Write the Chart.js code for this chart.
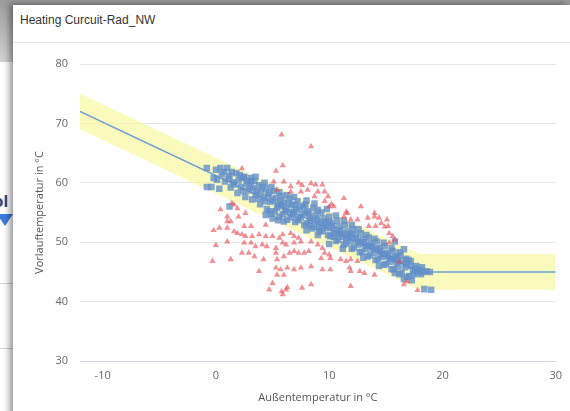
<!DOCTYPE html>
<html lang="de">
<head>
  <meta charset="UTF-8">
  <title>Heating Curcuit-Rad_NW</title>
  <style>
    html, body { margin: 0; padding: 0; }
    body { width: 570px; height: 411px; overflow: hidden; position: relative; background: #fff; font-family: Arial, sans-serif; }
    .back-top { position: absolute; left: 0; top: 0; width: 570px; height: 62px; background: linear-gradient(#9c9c9c, #d2d2d2); }
    .back-text { position: absolute; left: -7px; top: 192px; font: bold 17px Arial, sans-serif; color: #27477a; }
    .back-arrow { position: absolute; left: -3px; top: 214px; width: 0; height: 0; border-left: 8px solid transparent; border-right: 8px solid transparent; border-top: 12px solid #3b7ddb; }
    .back-line { position: absolute; left: 0; width: 13px; height: 1px; background: #d4d4d4; }
    .card { position: absolute; left: 13px; top: 5px; width: 557px; height: 420px; background: #fff; box-shadow: -3px -1px 7px rgba(0,0,0,0.45); }
    .card-title { height: 37px; line-height: 31px; padding-left: 7px; font-size: 12px; color: #333; border-bottom: 1px solid #e8e8e8; }
    .chart-box { position: relative; width: 557px; height: 368px; }
  </style>
</head>
<body>
  <div class="back-top"></div>
  <div class="back-text">ol</div>
  <div class="back-arrow"></div>
  <div class="back-line" style="top:283px"></div>
  <div class="back-line" style="top:348px"></div>

  <div class="card">
    <div class="card-title">Heating Curcuit-Rad_NW</div>
    <div class="chart-box"><canvas id="chart" width="557" height="368"></canvas></div>
  </div>

  <script src="https://cdn.jsdelivr.net/npm/chart.js"></script>
  <script>
    // Achsen
    const xTicks = [-10, 0, 10, 20, 30];
    const yTicks = [30, 40, 50, 60, 70, 80];

    // Heizkurve (Soll) und Toleranzband
    const curve = [[-12, 72], [18, 45], [30, 45]];
    const bandUpper = [[-12, 75], [18, 48], [30, 48]];
    const bandLower = [[-12, 69], [18, 42], [30, 42]];

    // Messwerte innerhalb der Kurve (blaue Quadrate)
    const blueSquares = [
      [-0.8,62.5],[0,62.2],[0.4,62.5],[1.0,62.5],[-0.2,60.8],[0.1,60.5],[-0.8,59.3],[-0.4,59.3],[0.5,61.4],[0.8,60.2],
      [0.3,59.0],[1.2,61.2],[1.5,60.1],[1.3,59.2],[1.8,61.6],[2.0,60.4],[2.2,59.3],[1.9,58.3],[2.5,61.0],[2.7,59.8],
      [2.9,58.7],[2.6,57.6],[3.1,60.2],[3.3,59.1],[3.5,58.0],[3.2,57.2],[3.8,59.6],[4.0,58.4],[4.2,57.5],[3.9,56.4],
      [4.4,59.0],[4.6,57.9],[4.8,56.8],[4.5,55.6],[4.9,54.8],[5.1,58.6],[5.3,57.4],[5.5,56.3],[5.2,55.2],[5.6,54.3],
      [5.8,57.8],[6.0,56.7],[6.2,55.6],[5.9,54.7],[6.3,53.8],[6.5,57.3],[6.7,56.2],[6.9,55.1],[6.6,54.2],[7.0,53.4],
      [7.2,56.9],[7.4,55.8],[7.6,54.7],[7.3,53.7],[7.8,52.9],[7.9,56.3],[8.1,55.2],[8.3,54.1],[8.0,53.2],[8.5,52.3],
      [8.6,55.8],[8.8,54.6],[9.0,53.5],[8.7,52.6],[9.2,51.8],[9.3,55.0],[9.5,54.0],[9.7,52.9],[9.4,51.9],[9.9,51.2],
      [10.0,54.3],[10.2,53.2],[10.4,52.1],[10.1,51.0],[10.6,50.2],[10.7,53.6],[10.9,52.6],[11.1,51.5],[10.8,50.4],[11.3,49.6],
      [11.4,52.9],[11.6,51.8],[11.8,50.8],[11.5,49.8],[12.0,48.9],[12.1,52.2],[12.3,51.2],[12.5,50.1],[12.2,49.1],[12.7,48.3],
      [12.8,51.5],[13.0,50.5],[13.2,49.4],[12.9,48.4],[13.4,47.6],[13.5,50.8],[13.7,49.8],[13.9,48.8],[13.6,47.8],[14.1,47.0],
      [14.2,50.1],[14.4,49.0],[14.6,48.0],[14.3,47.1],[14.8,46.2],[14.9,49.3],[15.1,48.2],[15.3,47.2],[15.0,46.3],[15.5,45.5],
      [15.6,48.5],[15.8,47.5],[16.0,46.5],[15.7,45.4],[16.2,44.6],[16.3,47.9],[16.5,46.9],[16.7,45.8],[16.4,44.8],[16.9,44.2],
      [17.0,47.0],[17.2,46.0],[17.4,45.2],[17.1,44.3],[17.6,45.6],[17.8,44.9],[18.0,45.3],[18.3,45.0],[18.6,45.1],[18.9,45.0],
      [18.4,42.1],[19.0,42.0],[17.3,43.6],[16.6,43.8],[1.2,56.0],[2.5,60.8],[3.1,60.8],[3.5,61.0],[15.8,50.1],[16.6,48.8],
      [0.7,61.8],[1.1,60.7],[1.6,59.7],[2.3,60.9],[2.8,60.3],[3.0,59.4],[3.6,58.6],[4.1,59.3],[4.3,56.9],[4.7,58.3],
      [5.0,57.2],[5.4,55.8],[5.7,57.0],[6.1,55.2],[6.4,56.5],[6.8,54.7],[7.1,55.5],[7.5,54.2],[7.7,56.1],[8.2,54.7],
      [8.4,53.6],[8.9,53.9],[9.1,52.3],[9.6,53.4],[9.8,52.4],[10.3,52.7],[10.5,51.5],[11.0,52.0],[11.2,50.9],[11.7,51.3],
      [11.9,50.1],[12.4,50.6],[12.6,49.6],[13.1,50.0],[13.3,48.9],[13.8,49.3],[14.0,48.2],[14.5,48.5],[14.7,47.5],[15.2,47.7],
      [15.4,46.7],[15.9,47.0],[16.1,45.9],[16.8,46.3],[17.5,44.6],[18.1,44.6],[5.0,54.0],[6.0,53.5],[4.7,55.2],[5.5,53.7],
      [1.4,61.8],[2.1,61.3],[2.4,58.6],[3.4,60.3],[3.7,57.3],[4.3,60.0],[4.9,59.3],[4.4,54.6],[5.6,58.4],[5.8,56.1],
      [6.3,57.9],[6.5,55.0],[6.9,57.6],[7.0,56.3],[7.2,54.0],[7.9,55.0],[8.0,57.0],[8.3,52.8],[8.7,56.5],[9.0,55.4],
      [9.3,53.0],[9.8,55.6],[10.0,53.5],[10.6,54.5],[10.4,50.9],[10.9,51.4],[11.3,53.6],[11.5,50.6],[12.0,52.9],[12.0,51.4],
      [12.6,52.2],[12.8,50.0],[13.3,51.2],[13.5,49.4],[14.0,50.6],[14.2,48.9],[14.8,49.9],[14.9,48.0],[15.5,49.0],[15.5,47.2],
      [16.2,48.3],[16.0,47.6],[16.8,47.2],[17.2,46.8],[17.7,46.0],[18.2,45.8],[13.0,47.4],[14.4,46.0],[15.8,44.8],[11.2,48.9],
      [10.0,49.7],[9.0,51.2],[8.0,52.0]
    ];

    // Messwerte außerhalb (rote Dreiecke)
    const redTriangles = [
      [5.8,68.1],[8.4,66.1],[5.9,62.9],[5.3,62.0],[2.3,62.4],[5.1,60.2],[6.0,60.2],[6.6,59.4],[7.3,60.0],[7.6,59.6],
      [8.4,59.9],[8.8,59.7],[9.4,59.7],[8.1,58.8],[9.0,58.5],[9.6,58.5],[5.4,58.8],[6.6,58.5],[7.5,58.5],[8.7,57.7],
      [9.9,57.7],[11.3,57.4],[9.6,56.9],[10.0,56.0],[10.4,56.0],[10.2,56.4],[12.8,56.0],[14.0,54.9],[11.5,55.1],[11.6,54.9],
      [12.5,53.8],[13.4,54.1],[14.0,54.3],[14.6,53.2],[15.2,52.7],[13.5,52.7],[14.1,52.7],[15.3,51.5],[11.3,54.3],[11.9,53.8],
      [15.1,53.8],[14.4,54.1],[15.6,51.0],[15.8,50.4],[14.9,52.6],[15.3,49.9],
      [0.4,55.5],[1.6,56.3],[1.9,55.7],[2.6,54.9],[1.4,56.6],[1.0,54.3],[2.0,54.3],[1.0,53.5],[1.3,53.5],[2.5,52.7],
      [3.1,52.7],[4.4,52.9],[1.0,52.4],[0.3,52.4],[1.6,51.8],[1.9,51.5],[2.3,51.3],[2.6,51.0],[3.2,51.0],[3.8,51.3],
      [4.4,51.0],[5.0,51.0],[5.6,50.7],[5.9,51.3],[6.6,51.5],[6.9,51.0],[7.3,50.7],[1.0,50.1],[2.5,49.9],[3.1,49.9],
      [3.5,49.3],[4.1,49.6],[4.5,49.3],[5.3,49.0],[5.9,49.9],[6.2,49.6],[6.9,49.9],[7.5,50.1],[2.3,48.2],[2.9,48.2],
      [3.4,47.6],[1.3,47.1],[4.2,47.1],[5.3,48.2],[5.4,47.1],[6.0,47.6],[6.5,48.2],[6.9,48.5],[7.3,48.2],[7.8,48.2],
      [5.3,45.7],[5.7,45.4],[6.3,45.7],[6.9,45.4],[7.5,45.7],[3.8,45.1],[5.4,44.5],[6.0,44.5],[5.0,43.1],[6.2,42.0],
      [4.7,42.0],[5.9,41.2],[7.6,42.3],[5.8,41.7],[6.3,42.4],
      [8.4,50.1],[9.0,49.6],[9.4,49.0],[9.6,48.2],[10.0,47.9],[9.3,47.3],[10.1,47.3],[8.2,48.5],[8.4,45.9],[9.4,45.4],
      [10.1,45.4],[11.0,47.1],[11.5,46.8],[11.9,47.1],[12.5,46.8],[11.8,45.7],[11.9,45.1],[12.7,45.1],[13.1,44.8],[14.0,44.5],
      [11.9,42.6],[8.4,42.9],[16.6,42.9],[17.8,41.9],[16.2,46.7],[16.9,43.4],[-0.2,52.0],[0.0,49.5],[-0.3,46.8]
    ];

    const toPts = arr => arr.map(p => ({ x: p[0], y: p[1] }));
    const tickFont = { family: '"Open Sans", sans-serif', size: 11 };

    const ctx = document.getElementById('chart').getContext('2d');
    new Chart(ctx, {
      type: 'scatter',
      data: {
        datasets: [
          { label: 'Band oben', data: toPts(bandUpper), showLine: true, fill: '+1',
            backgroundColor: 'rgba(248,248,160,0.7)', borderColor: 'rgba(0,0,0,0)', borderWidth: 0, pointRadius: 0, order: 5 },
          { label: 'Band unten', data: toPts(bandLower), showLine: true, fill: false,
            borderColor: 'rgba(0,0,0,0)', borderWidth: 0, pointRadius: 0, order: 5 },
          { label: 'Heizkurve', data: toPts(curve), showLine: true, fill: false,
            borderColor: '#6e9fd6', borderWidth: 1.5, pointRadius: 0, order: 4 },
          { label: 'Ist (in Toleranz)', data: toPts(blueSquares), pointStyle: 'rect', pointRadius: 4.6,
            backgroundColor: 'rgba(98,142,202,0.78)', borderWidth: 0, order: 2 },
          { label: 'Ist (außerhalb)', data: toPts(redTriangles), pointStyle: 'triangle', pointRadius: 3.6,
            backgroundColor: 'rgba(228,72,78,0.6)', borderWidth: 0, order: 1 }
        ]
      },
      options: {
        responsive: false,
        animation: false,
        devicePixelRatio: 1,
        layout: { padding: { top: 21, right: 14, left: 0, bottom: 0 } },
        plugins: { legend: { display: false }, tooltip: { enabled: false } },
        scales: {
          x: {
            type: 'linear', min: -12, max: 30,
            afterBuildTicks: s => { s.ticks = xTicks.map(v => ({ value: v })); },
            afterFit: s => { s.height = 50; },
            grid: { display: false, drawTicks: false },
            border: { display: true, color: '#ccd6eb', width: 1 },
            ticks: { padding: 8, color: '#666', font: tickFont },
            title: { display: true, text: 'Außentemperatur in °C', color: '#555',
                     font: tickFont, padding: { top: 0, bottom: 7 } }
          },
          y: {
            min: 30, max: 80,
            afterBuildTicks: s => { s.ticks = yTicks.map(v => ({ value: v })); },
            afterFit: s => { s.width = 67; },
            grid: { color: '#e6e6e6', drawTicks: false },
            border: { display: false },
            ticks: { padding: 12, color: '#666', font: tickFont },
            title: { display: true, text: 'Vorlauftemperatur in °C', color: '#555',
                     font: tickFont, padding: { top: 20, bottom: 0 } }
          }
        }
      }
    });
  </script>
</body>
</html>
